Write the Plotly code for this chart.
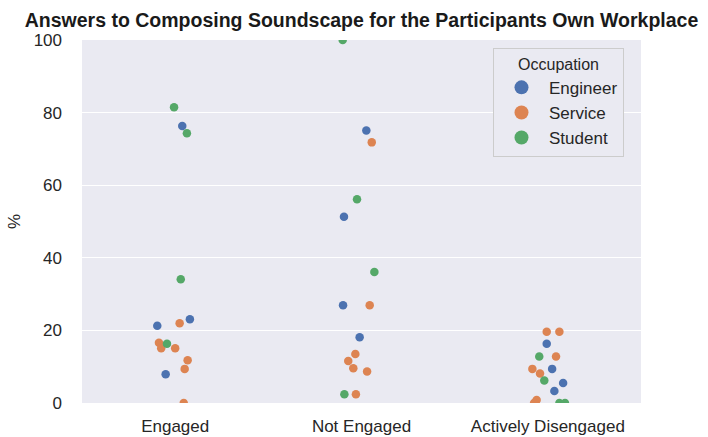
import plotly.graph_objects as go

categories = ["Engaged", "Not Engaged", "Actively Disengaged"]
occupations = ["Engineer", "Service", "Student"]
colors = ["#4C72B0", "#DD8452", "#55A868"]
y_ticks = [0, 20, 40, 60, 80, 100]

engineer_category = ["Engaged"] * 4 + ["Not Engaged"] * 4 + ["Actively Disengaged"] * 4
engineer_pct = [76.3, 23.1, 21.3, 7.9, 75.1, 51.3, 26.9, 18.1, 16.3, 9.4, 5.5, 3.3]
engineer_jitter = [0.038, 0.079, -0.096, -0.051, 0.026, -0.094, -0.099, -0.010, -0.006, 0.023, 0.082, 0.035]

service_category = ["Engaged"] * 7 + ["Not Engaged"] * 7 + ["Actively Disengaged"] * 7
service_pct = [22.0, 16.6, 15.1, 15.1, 11.8, 9.4, 0.0,
               71.8, 26.9, 13.5, 11.6, 9.6, 8.7, 2.4,
               19.6, 19.6, 12.8, 9.4, 8.1, 0.8, 0.0]
service_jitter = [0.024, -0.087, -0.075, 0.000, 0.067, 0.051, 0.046,
                  0.055, 0.044, -0.033, -0.071, -0.044, 0.030, -0.030,
                  -0.006, 0.062, 0.044, -0.083, -0.042, -0.060, -0.074]

student_category = ["Engaged"] * 4 + ["Not Engaged"] * 4 + ["Actively Disengaged"] * 4
student_pct = [81.5, 74.3, 34.1, 16.3, 100.0, 56.1, 36.1, 2.4, 12.8, 6.2, 0.0, 0.0]
student_jitter = [-0.006, 0.063, 0.030, -0.044, -0.101, -0.024, 0.069, -0.092, -0.046, -0.019, 0.062, 0.092]

series = [
    (engineer_category, engineer_pct, engineer_jitter),
    (service_category, service_pct, service_jitter),
    (student_category, student_pct, student_jitter),
]

FONT = "Liberation Sans, Arial, sans-serif"
TXT = "#262626"

fig = go.Figure()
for name, color, (cats, vals, jit) in zip(occupations, colors, series):
    xs = [categories.index(c) + j for c, j in zip(cats, jit)]
    fig.add_trace(go.Scatter(
        x=xs, y=vals, mode="markers", name=name, showlegend=False,
        marker=dict(color=color, size=8.5, line=dict(width=0)),
        cliponaxis=True,
    ))
# legend entries
for name, color in zip(occupations, colors):
    fig.add_trace(go.Scatter(
        x=[None], y=[None], mode="markers", name=name, showlegend=True,
        marker=dict(color=color, size=14, line=dict(width=0)),
    ))

fig.update_layout(
    width=708, height=437,
    margin=dict(l=82, r=67, t=40, b=34),
    paper_bgcolor="white",
    plot_bgcolor="#EAEAF2",
    font=dict(family=FONT, size=17, color=TXT),
    title=dict(
        text="<b>Answers to Composing Soundscape for the Participants Own Workplace</b>",
        x=0.5, xref="paper", xanchor="center",
        y=1 - 20 / 437, yref="container", yanchor="middle",
        font=dict(family=FONT, size=19.5, color="#1a1a1a"),
    ),
    xaxis=dict(
        range=[-0.5, 2.5], tickvals=[0, 1, 2], ticktext=categories,
        showgrid=False, zeroline=False, showline=False, ticks="",
        ticklabelstandoff=11, automargin=False,
        tickfont=dict(size=17, color=TXT),
    ),
    yaxis=dict(
        range=[0, 100], tickvals=y_ticks, ticktext=[str(v) for v in y_ticks],
        showgrid=True, gridcolor="white", gridwidth=1.4,
        zeroline=False, showline=False, ticks="",
        ticklabelstandoff=19, automargin=False,
        tickfont=dict(size=17, color=TXT),
        title=dict(text="%", font=dict(size=17, color=TXT), standoff=8),
    ),
    legend=dict(
        x=(493 - 82) / 559, y=(403 - 48) / 363, xanchor="left", yanchor="top",
        bgcolor="#EAEAF2", bordercolor="#CCCCCC", borderwidth=1,
        title=dict(text="Occupation", side="top center", font=dict(size=16, color=TXT)),
        font=dict(size=17, color=TXT),
        itemwidth=45,
    ),
)

fig.write_html("out.html", config={"displayModeBar": False},
               post_script="document.body.style.margin='0';")
